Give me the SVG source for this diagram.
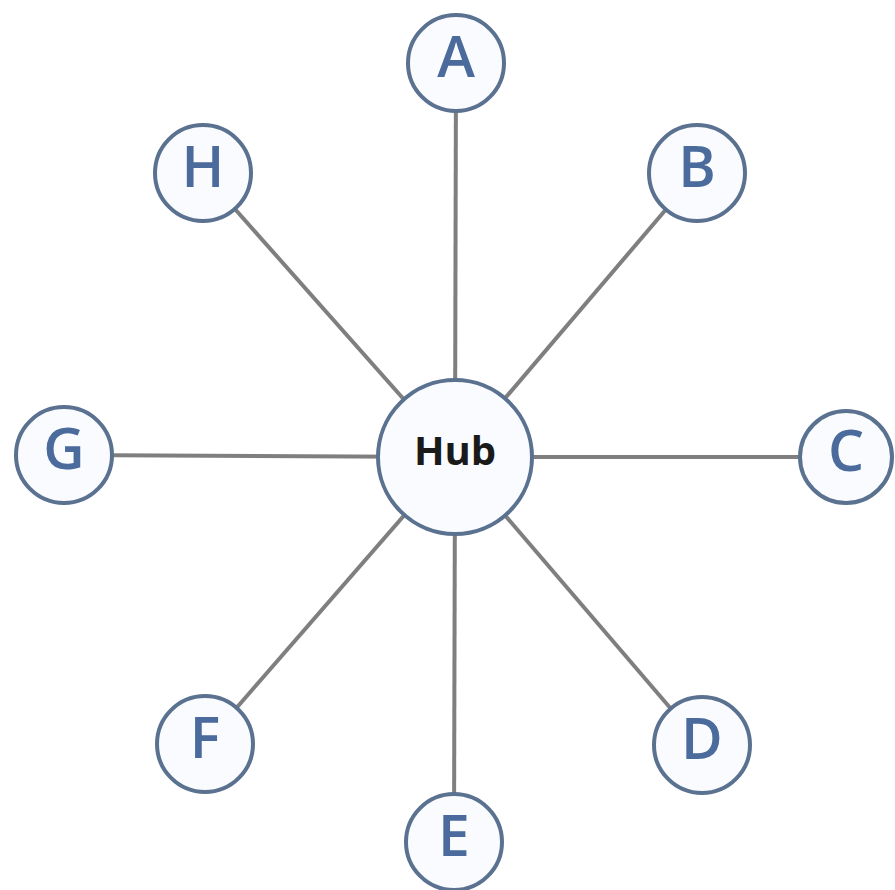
<svg xmlns="http://www.w3.org/2000/svg" width="895" height="890" viewBox="0 0 895 890">
<style>
.edge{stroke:#7f7f7f;stroke-width:4;fill:none}
.node circle{fill:#f9fbfe;stroke:#5a7190;stroke-width:4}
.lbl{font-family:"Open Sans","Liberation Sans",sans-serif;font-weight:600;font-size:57px;fill:#4a6b9c;text-anchor:middle}
.hub{font-family:"Open Sans","Liberation Sans",sans-serif;font-weight:bold;font-size:40px;fill:#1a1a1a;text-anchor:middle}
</style>
<rect width="895" height="890" fill="#ffffff"/>
<g id="connectors">
<line class="edge" x1="455" y1="457" x2="456" y2="63"/>
<line class="edge" x1="455" y1="457" x2="697" y2="173"/>
<line class="edge" x1="455" y1="457" x2="846" y2="457"/>
<line class="edge" x1="455" y1="457" x2="702" y2="745"/>
<line class="edge" x1="455" y1="457" x2="454" y2="842"/>
<line class="edge" x1="455" y1="457" x2="205" y2="744"/>
<line class="edge" x1="455" y1="457" x2="64" y2="455"/>
<line class="edge" x1="455" y1="457" x2="203" y2="173"/>
</g>
<g id="hub" class="node"><circle cx="455" cy="457" r="77"/><text class="hub" x="455" y="465">Hub</text></g>
<g id="A" class="node"><circle cx="456" cy="63" r="48"/><text class="lbl" x="456" y="77">A</text></g>
<g id="B" class="node"><circle cx="697" cy="173" r="48"/><text class="lbl" x="697" y="187">B</text></g>
<g id="C" class="node"><circle cx="846" cy="457" r="46"/><text class="lbl" x="846" y="471">C</text></g>
<g id="D" class="node"><circle cx="702" cy="745" r="48"/><text class="lbl" x="702" y="759">D</text></g>
<g id="E" class="node"><circle cx="454" cy="842" r="48"/><text class="lbl" x="454" y="856">E</text></g>
<g id="F" class="node"><circle cx="205" cy="744" r="48"/><text class="lbl" x="205" y="758">F</text></g>
<g id="G" class="node"><circle cx="64" cy="455" r="48"/><text class="lbl" x="64" y="469">G</text></g>
<g id="H" class="node"><circle cx="203" cy="173" r="48"/><text class="lbl" x="203" y="187">H</text></g>
</svg>
